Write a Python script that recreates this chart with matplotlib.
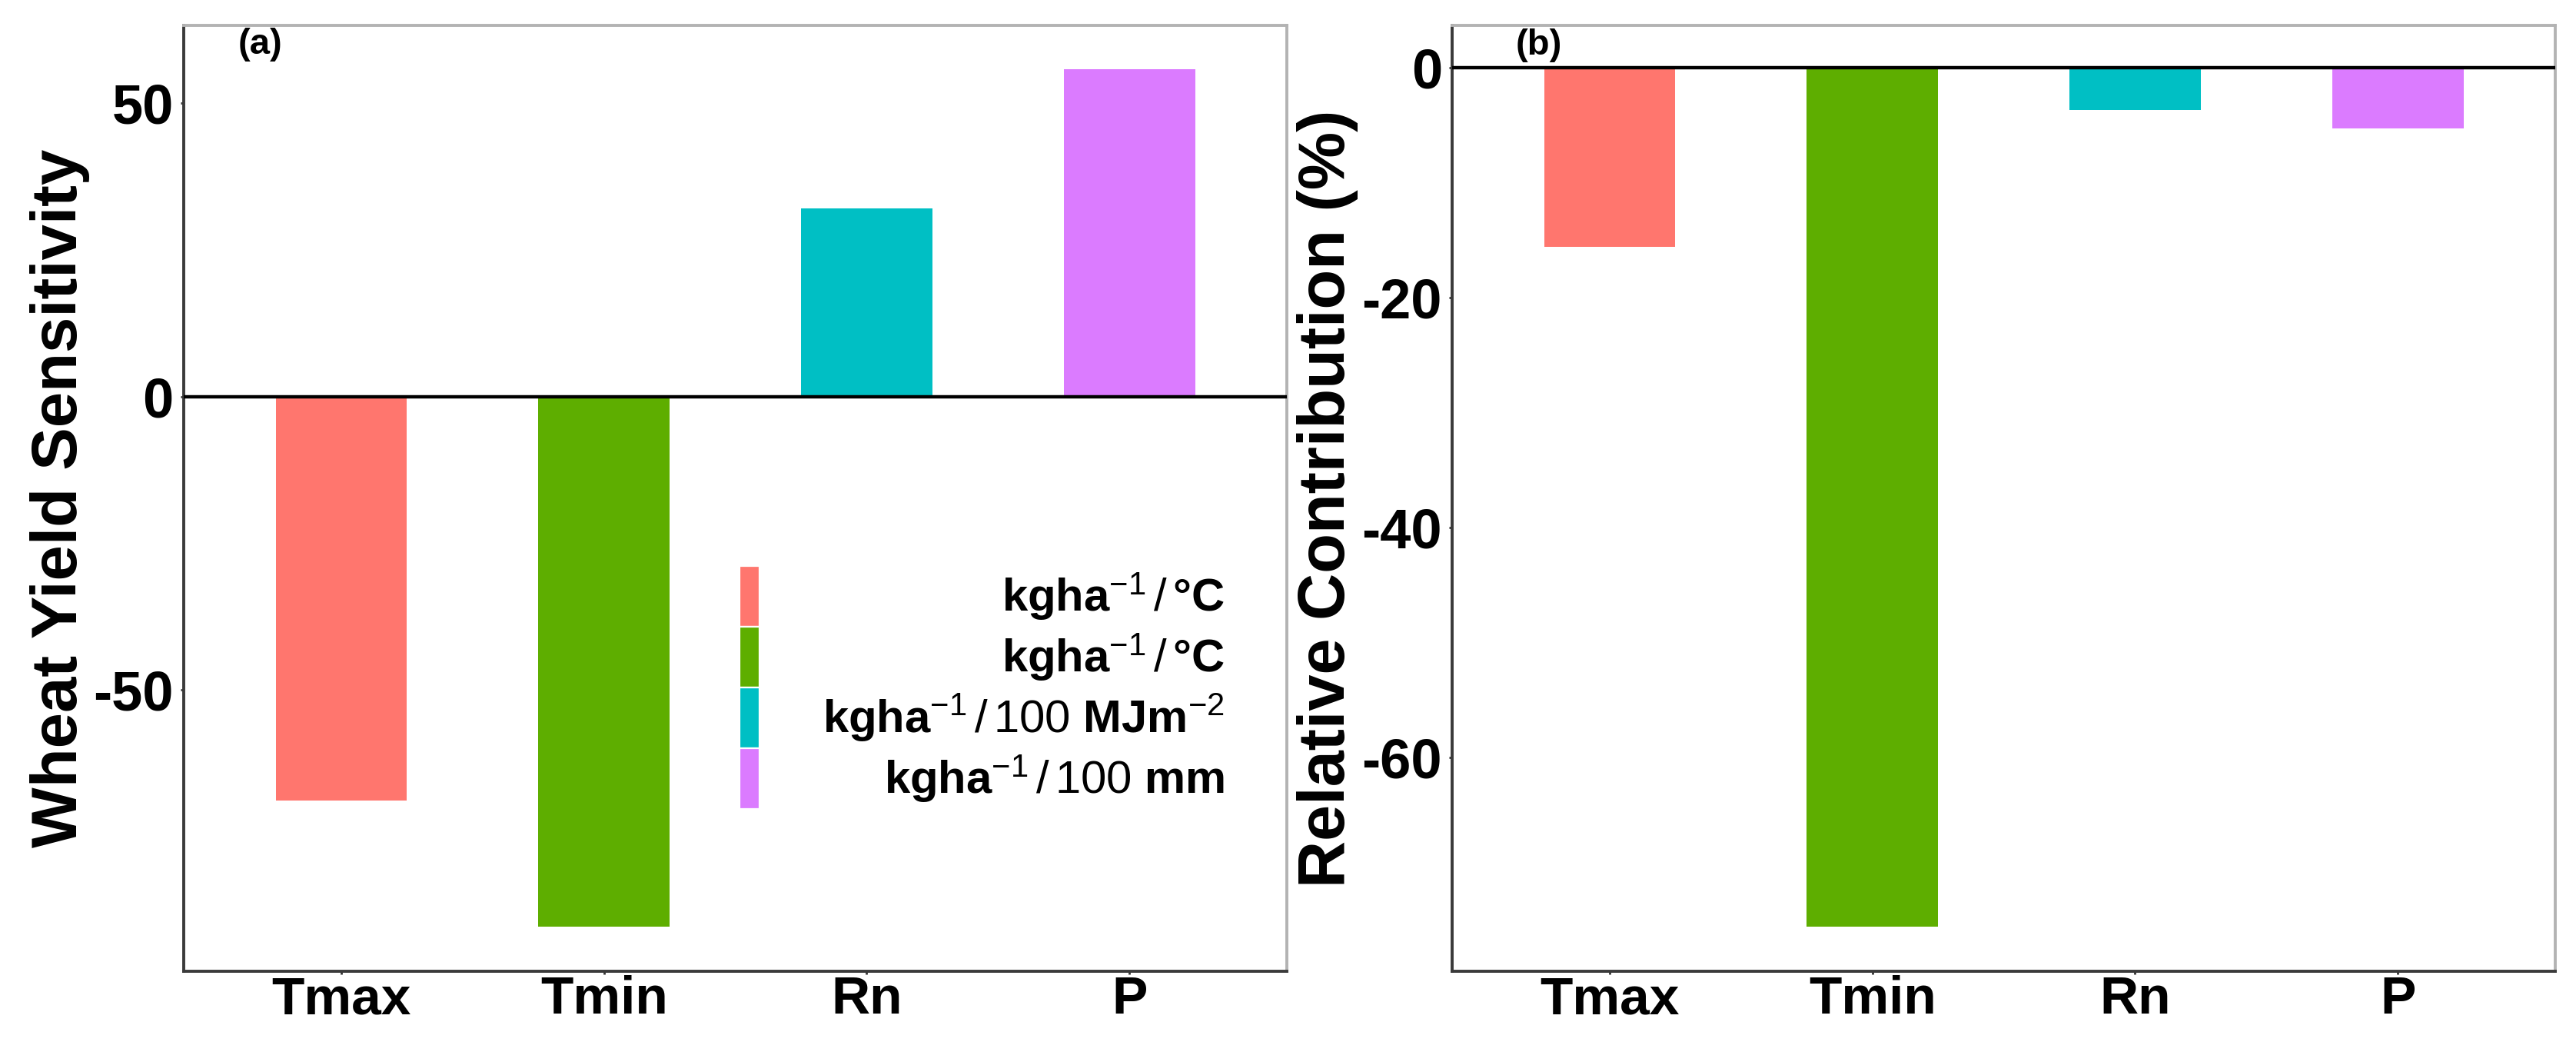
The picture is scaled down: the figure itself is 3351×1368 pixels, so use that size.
"""
Wheat yield sensitivity and relative contribution of climate factors
"""

import matplotlib
matplotlib.use("Agg")
import matplotlib.pyplot as plt
from matplotlib.patches import Rectangle

# data
factors = ["Tmax", "Tmin", "Rn", "P"]
sensitivity = [-68.8, -90.3, 32.1, 55.8]
contribution = [-15.6, -74.7, -3.7, -5.3]
colors = ["#FF766E", "#5EAE00", "#00BFC4", "#DB7BFF"]
units = [
    r"kgha$^{-1}$$\,\mathrm{/}\,$°C",
    r"kgha$^{-1}$$\,\mathrm{/}\,$°C",
    r"kgha$^{-1}$$\,\mathrm{/\,100}$ MJm$^{-2}$",
    r"kgha$^{-1}$$\,\mathrm{/\,100}$ mm",
]
sens_ticks = [-50, 0, 50]
contrib_ticks = [-60, -40, -20, 0]

plt.rcParams["font.family"] = ["Liberation Sans", "DejaVu Sans"]
plt.rcParams["font.weight"] = "bold"
plt.rcParams["mathtext.fontset"] = "custom"
plt.rcParams["mathtext.rm"] = "Liberation Sans:weight=normal"
plt.rcParams["mathtext.it"] = "Liberation Sans:weight=normal"
plt.rcParams["mathtext.bf"] = "Liberation Sans:bold"


def style_axes(ax, ticks, ylim, ylabel, labelsize=30):
    xpos = range(1, len(factors) + 1)
    ax.set_xlim(0.4, len(factors) + 0.6)
    ax.set_ylim(*ylim)
    ax.set_xticks(list(xpos))
    ax.set_xticklabels(factors)
    ax.set_yticks(ticks)
    ax.set_yticklabels([str(t) for t in ticks])
    ax.axhline(0, color="black", lw=1.6, zorder=3)
    for side in ["top", "right"]:
        ax.spines[side].set_color("#b3b3b3")
        ax.spines[side].set_linewidth(1.4)
    for side in ["left", "bottom"]:
        ax.spines[side].set_color("#3a3a3a")
        ax.spines[side].set_linewidth(1.4)
    ax.tick_params(axis="x", length=1.5, width=1, color="#333333",
                   labelsize=25, pad=0.5)
    ax.tick_params(axis="y", length=1.5, width=1, color="#333333",
                   labelsize=26, pad=3.2)
    ax.set_ylabel(ylabel, fontsize=labelsize, fontweight="bold")
    ax.yaxis.set_label_coords(-0.085, 0.5)


fig = plt.figure(figsize=(3351 / 200, 1368 / 200), dpi=200)
ax_a = fig.add_axes([0.0713, 0.0768, 0.4283, 0.8991])
ax_b = fig.add_axes([0.5637, 0.0768, 0.4283, 0.8991])

xpos = list(range(1, len(factors) + 1))

# (a) sensitivity
ax_a.bar(xpos, sensitivity, width=0.5, color=colors, zorder=2)
style_axes(ax_a, sens_ticks, (-97.9, 63.3), "Wheat Yield Sensitivity")
ax_a.text(0.69, 60, "(a)", fontsize=17, fontweight="bold",
          ha="center", va="center")

# legend drawn in ggplot fashion: stacked keys, right aligned labels
key_x, key_w = 0.504, 0.018
key_top, key_h = 0.4285, 0.0642
for i, (c, lab) in enumerate(zip(colors, units)):
    y0 = key_top - (i + 1) * key_h
    ax_a.add_patch(Rectangle((key_x, y0), key_w, key_h, transform=ax_a.transAxes,
                             facecolor=c, edgecolor="white", lw=0.8, zorder=4))
    ax_a.text(0.9436, y0 + key_h / 2, lab, transform=ax_a.transAxes,
              fontsize=21.5, fontweight="bold", ha="right", va="center", zorder=4)

# (b) relative contribution
ax_b.bar(xpos, contribution, width=0.5, color=colors, zorder=2)
style_axes(ax_b, contrib_ticks, (-78.6, 3.68), "Relative Contribution (%)",
           labelsize=30.5)
ax_b.text(0.73, 1.95, "(b)", fontsize=17, fontweight="bold",
          ha="center", va="center")

fig.savefig("out.png", dpi=200)
